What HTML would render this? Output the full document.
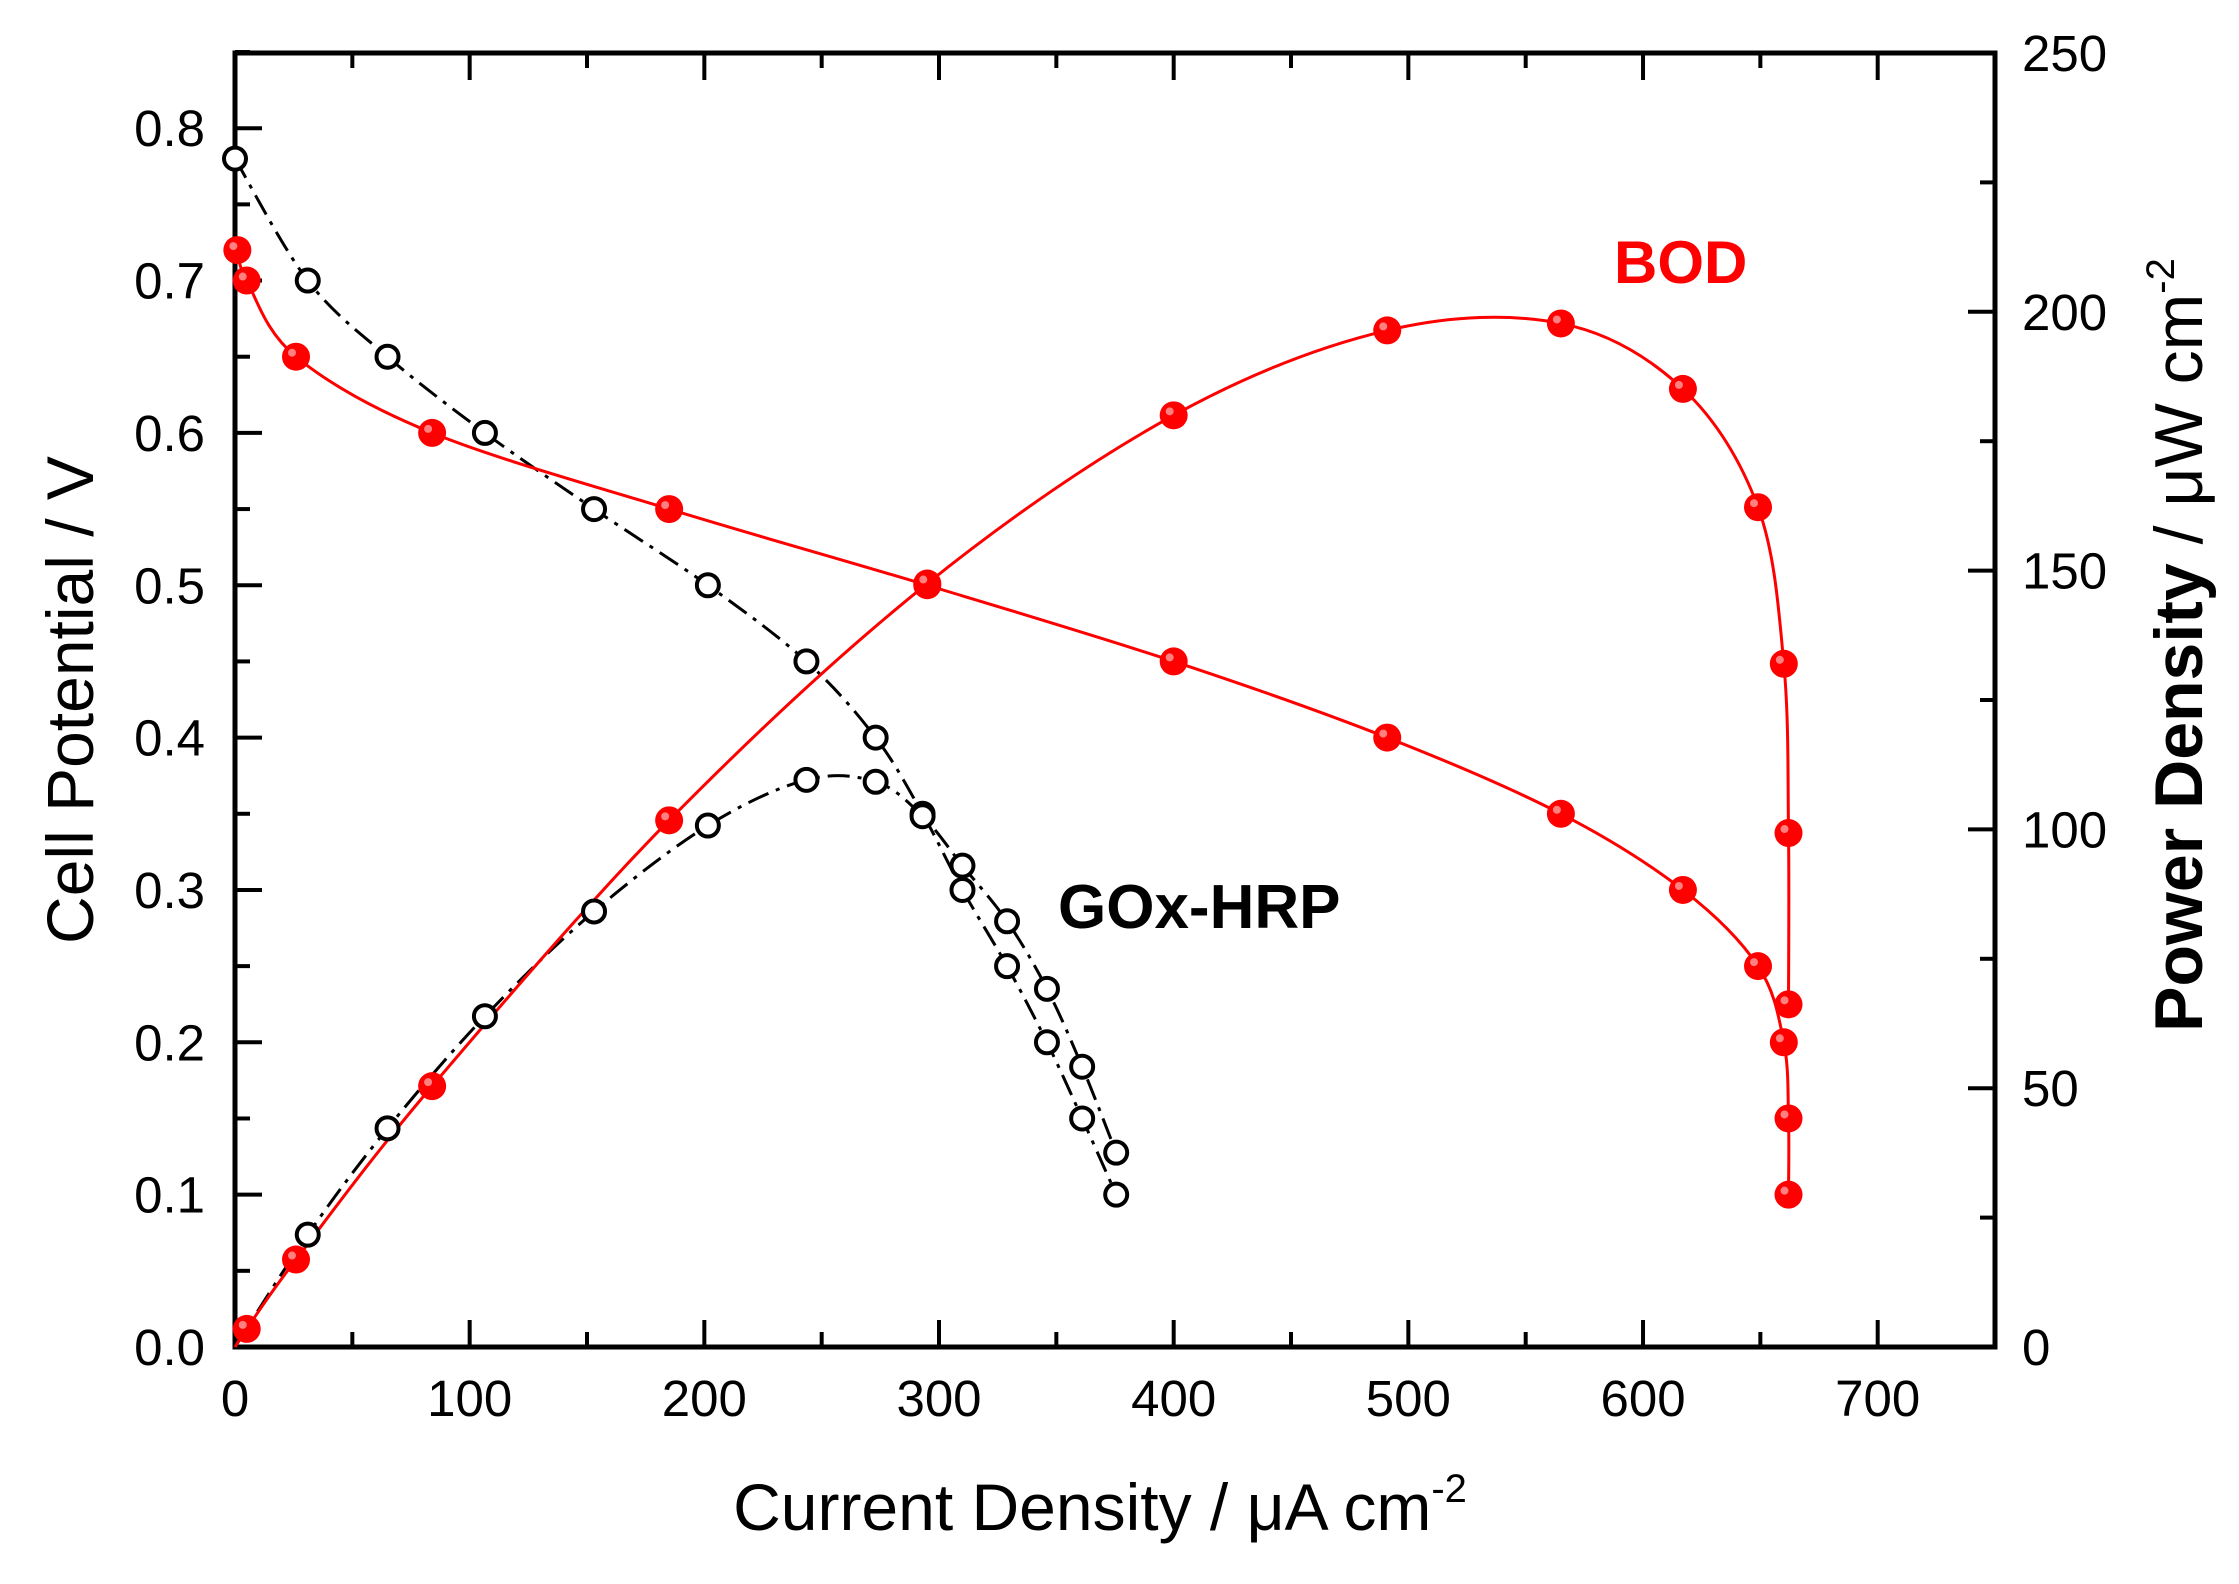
<!DOCTYPE html>
<html><head><meta charset="utf-8"><style>
html,body{margin:0;padding:0;background:#fff;}
svg{display:block;font-family:"Liberation Sans",Arial,sans-serif;}
</style></head><body>
<svg id="s" width="2239" height="1584" viewBox="0 0 2239 1584" xmlns="http://www.w3.org/2000/svg"></svg>
<script>
const X=x=>235+x*2.3467, YL=v=>1347-v*1523.5, YR=p=>1347-p*5.176;
let h='';
h+='<rect x="235" y="53" width="1760" height="1294" fill="none" stroke="#000" stroke-width="5"/>';
for(let x=0;x<=750;x+=50){const px=X(x),L=x%100==0?27:15;
 h+=`<line x1="${px}" y1="1347" x2="${px}" y2="${1347-L}" stroke="#000" stroke-width="4"/>`;
 h+=`<line x1="${px}" y1="53" x2="${px}" y2="${53+L}" stroke="#000" stroke-width="4"/>`;
 if(x%100==0) h+=`<text x="${px}" y="1416" font-size="51" text-anchor="middle">${x}</text>`;}
for(let i=0;i<=17;i++){const v=i*0.05,py=YL(v),L=i%2==0?27:15;
 h+=`<line x1="235" y1="${py}" x2="${235+L}" y2="${py}" stroke="#000" stroke-width="4"/>`;
 if(i%2==0) h+=`<text x="205" y="${py+18}" font-size="51" text-anchor="end">${v.toFixed(1)}</text>`;}
for(let p=0;p<=250;p+=25){const py=YR(p),L=p%50==0?27:15;
 h+=`<line x1="1995" y1="${py}" x2="${1995-L}" y2="${py}" stroke="#000" stroke-width="4"/>`;
 if(p%50==0) h+=`<text x="2022" y="${py+18}" font-size="51">${p}</text>`;}
h+='<text x="1100" y="1530" font-size="66" text-anchor="middle">Current Density / μA cm<tspan font-size="40" dy="-28">-2</tspan></text>';
h+='<text transform="translate(93,700) rotate(-90)" font-size="66" text-anchor="middle">Cell Potential / V</text>';
h+='<text transform="translate(2202,645) rotate(-90)" font-size="68" font-weight="bold" text-anchor="middle">Power Density <tspan font-weight="normal">/ μW cm</tspan><tspan font-weight="normal" font-size="40" dy="-28">-2</tspan></text>';
h+='<text x="1614" y="283" font-size="60" font-weight="bold" fill="#ff0000">BOD</text>';
h+='<text x="1058" y="928" font-size="62" font-weight="bold">GOx-HRP</text>';
const bod=[[1,0.72],[5,0.70],[26,0.65],[84,0.60],[185,0.55],[295,0.50],[400,0.45],[491,0.40],[565,0.35],[617,0.30],[649,0.25],[660,0.20],[662,0.15],[662,0.10]];
const gox=[[0,0.78],[31,0.70],[65,0.65],[106.5,0.60],[153,0.55],[201.5,0.50],[243.5,0.45],[273,0.40],[293,0.35],[310,0.30],[329,0.25],[346,0.20],[361,0.15],[375.5,0.10]];
function path(pts){
 let d=`M${pts[0][0]},${pts[0][1]}`;
 for(let i=0;i<pts.length-1;i++){const p0=pts[Math.max(0,i-1)],p1=pts[i],p2=pts[i+1],p3=pts[Math.min(pts.length-1,i+2)];
  const c1=[p1[0]+(p2[0]-p0[0])/6,p1[1]+(p2[1]-p0[1])/6],c2=[p2[0]-(p3[0]-p1[0])/6,p2[1]-(p3[1]-p1[1])/6];
  d+=` C${c1[0]},${c1[1]} ${c2[0]},${c2[1]} ${p2[0]},${p2[1]}`;}
 return d;}
const bv=bod.map(([x,v])=>[X(x),YL(v)]);
const bp=[[X(0),YR(0)]].concat(bod.slice(1).map(([x,v])=>[X(x),YR(x*v)]));
const gv=gox.map(([x,v])=>[X(x),YL(v)]);
const gp=[[X(0),YR(0)]].concat(gox.slice(1).map(([x,v])=>[X(x),YR(x*v)]));
const dash='stroke-dasharray="22,8,4,8"';
h+=`<path d="${path(gv)}" fill="none" stroke="#000" stroke-width="3" ${dash}/>`;
h+=`<path d="${path(gp)}" fill="none" stroke="#000" stroke-width="3" ${dash}/>`;
h+=`<path d="${path(bv)}" fill="none" stroke="#ff0000" stroke-width="3"/>`;
h+=`<path d="${path(bp)}" fill="none" stroke="#ff0000" stroke-width="3"/>`;
for(const [x,y] of gv.concat(gp.slice(1))) h+=`<circle cx="${x}" cy="${y}" r="11" fill="#fff" stroke="#000" stroke-width="4"/>`;
for(const [x,y] of bv.concat(bp.slice(1))) h+=`<circle cx="${x}" cy="${y}" r="14" fill="#ff0000"/><circle cx="${x-4}" cy="${y-4}" r="4" fill="#ff8080"/>`;
document.getElementById('s').innerHTML=h;
</script>
</body></html>
